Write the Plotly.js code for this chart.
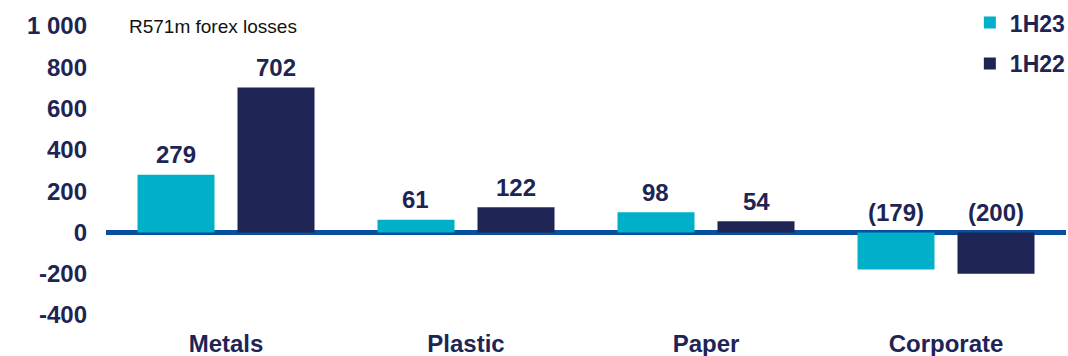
<!DOCTYPE html>
<html>
<head>
<meta charset="utf-8">
<script src="https://cdn.plot.ly/plotly-3.0.1.min.js"></script>
<style>html,body{margin:0;padding:0;background:#fff;}#chart{width:1068px;height:356px;}</style>
</head>
<body>
<div id="chart"></div>
<script>
const categories = ["Metals", "Plastic", "Paper", "Corporate"];
const series1H23 = [279, 61, 98, -179];
const series1H22 = [702, 122, 54, -200];
const seriesNames = ["1H23", "1H22"];
const tickValues = [-400, -200, 0, 200, 400, 600, 800, 1000];
const tickLabels = ["-400", "-200", "0", "200", "400", "600", "800", "1 000"];
const noteText = "R571m forex losses";

const colors = ["#00b0c8", "#1e2454"];
const navy = "#1e2454";
const font = "Liberation Sans, Arial, sans-serif";

function fmt(v) { return v < 0 ? "(" + Math.abs(v) + ")" : String(v); }

const traces = [series1H23, series1H22].map((vals, i) => ({
  type: "bar",
  name: seriesNames[i],
  x: categories,
  y: vals,
  marker: { color: colors[i] },
  legendgroup: "g" + i,
  hoverinfo: "skip"
}));

const annotations = [];
[series1H23, series1H22].forEach((vals, i) => {
  vals.forEach((v, j) => {
    annotations.push({
      xref: "x", yref: "y",
      x: j + (i === 0 ? -0.2085 : 0.2085),
      y: Math.max(v, 0),
      yshift: 20,
      text: "<b>" + fmt(v) + "</b>",
      showarrow: false,
      font: { family: font, size: 24, color: navy },
      yanchor: "middle"
    });
  });
});
annotations.push({
  xref: "paper", yref: "paper",
  x: 0.022, y: 1.0, xanchor: "left", yanchor: "middle",
  text: noteText, showarrow: false,
  font: { family: font, size: 19, color: "#111" }
});

const layout = {
  width: 1068, height: 356,
  margin: { l: 106, r: 2, t: 26, b: 41, autoexpand: false },
  paper_bgcolor: "#fff", plot_bgcolor: "#fff",
  barmode: "group",
  bargap: 0.1667,
  bargroupgap: 0.23,
  showlegend: true,
  legend: {
    x: 1.004, xanchor: "right", y: 1.086, yanchor: "top",
    font: { family: font, size: 23, color: navy, weight: "bold" },
    tracegroupgap: 8,
    itemwidth: 30,
    bgcolor: "rgba(0,0,0,0)"
  },
  xaxis: {
    type: "category",
    showgrid: false, zeroline: false, showline: false,
    ticks: "",
    tickfont: { family: font, size: 24, color: navy, weight: "bold" },
    ticklabelstandoff: 12,
    fixedrange: true
  },
  yaxis: {
    range: [-400, 1000],
    tickvals: tickValues, ticktext: tickLabels,
    showgrid: false, showline: false,
    zeroline: true, zerolinecolor: "#0a4f9e", zerolinewidth: 5,
    tickfont: { family: font, size: 24, color: navy, weight: "bold" },
    ticks: "", ticklabelstandoff: 18,
    fixedrange: true
  },
  annotations: annotations
};

Plotly.newPlot("chart", traces, layout, { displayModeBar: false, staticPlot: true });
</script>
</body>
</html>
